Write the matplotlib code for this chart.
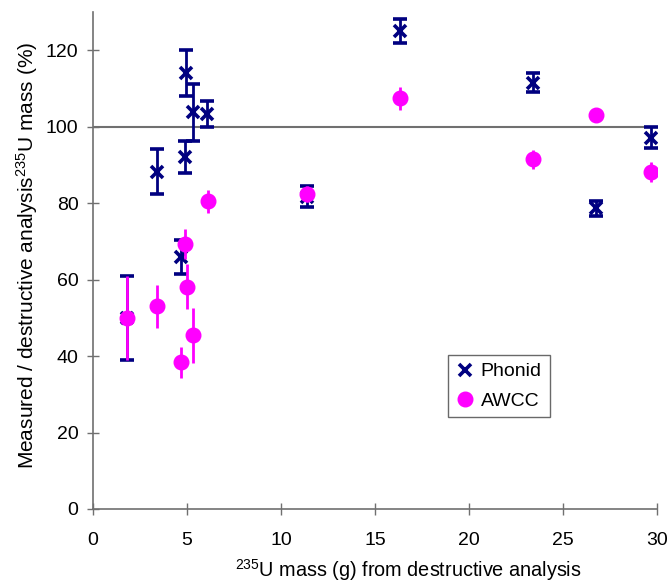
import matplotlib.pyplot as plt
from matplotlib.lines import Line2D

plt.rcParams["font.family"] = ["Liberation Sans", "DejaVu Sans"]
plt.rcParams["mathtext.fontset"] = "custom"
plt.rcParams["mathtext.rm"] = "Liberation Sans"
plt.rcParams["mathtext.default"] = "regular"

# Phonid results
phonid_x = [3.4, 4.95, 5.3, 4.9, 6.05, 4.7, 1.8, 11.4, 16.35, 23.4, 26.75, 29.7]
phonid_y = [88.3, 114.2, 103.8, 92.0, 103.3, 66.0, 50.0, 81.7, 125.1, 111.6, 78.7, 97.2]
phonid_err = [6.0, 6.0, 7.5, 4.2, 3.4, 4.5, 11.0, 2.8, 3.2, 2.6, 2.0, 2.7]

# AWCC results
awcc_x = [1.8, 3.4, 5.0, 5.3, 4.7, 4.9, 6.1, 11.4, 16.35, 23.4, 26.75, 29.7]
awcc_y = [50.0, 53.0, 58.2, 45.4, 38.4, 69.4, 80.5, 82.4, 107.5, 91.5, 103.1, 88.3]
awcc_err = [11.0, 5.7, 5.8, 7.3, 4.0, 4.0, 3.0, 2.0, 3.0, 2.5, 1.0, 2.6]

navy = "#000080"
magenta = "#ff00ff"
grey = "#707070"

fig = plt.figure(figsize=(6.69, 5.83), dpi=100)
ax = fig.add_axes([0.139, 0.127, 0.843, 0.852])

ax.axhline(100, color=grey, lw=1.5, zorder=1)

ax.errorbar(phonid_x, phonid_y, yerr=phonid_err, fmt="x", color=navy,
            ms=9, mew=2.6, elinewidth=2, capsize=5, capthick=2, zorder=3)
ax.errorbar(awcc_x, awcc_y, yerr=awcc_err, fmt="o", color=magenta,
            ms=10.5, elinewidth=2, capsize=0, zorder=4)

ax.set_xlim(0, 30)
ax.set_ylim(0, 130)
ax.set_xticks(range(0, 31, 5))
ax.set_yticks(range(0, 121, 20))
ax.tick_params(direction="inout", length=9, width=1, color=grey, labelsize=14)
ax.tick_params(axis="x", pad=12)
ax.tick_params(axis="y", pad=6)
for s in ["top", "right"]:
    ax.spines[s].set_visible(False)
for s in ["left", "bottom"]:
    ax.spines[s].set_color(grey)
    ax.spines[s].set_linewidth(1.2)

ax.set_xlabel("$^{235}$U mass (g) from destructive analysis", fontsize=14.3,
              labelpad=6, x=0.56)
ax.set_ylabel("Measured / destructive analysis$^{235}$U mass (%)", fontsize=15,
              labelpad=4, y=0.51)

handles = [
    Line2D([], [], ls="none", marker="x", color=navy, ms=8, mew=2.6),
    Line2D([], [], ls="none", marker="o", color=magenta, ms=10.5),
]
leg = ax.legend(handles, ["Phonid", "AWCC"], loc="upper left",
                bbox_to_anchor=(0.629, 0.31), fontsize=14, frameon=True,
                fancybox=False, edgecolor="#444444", handletextpad=0.3,
                handlelength=1.0, borderpad=0.4, labelspacing=0.6,
                borderaxespad=0)
leg.get_frame().set_linewidth(1)

fig.savefig("out.png", dpi=100)
